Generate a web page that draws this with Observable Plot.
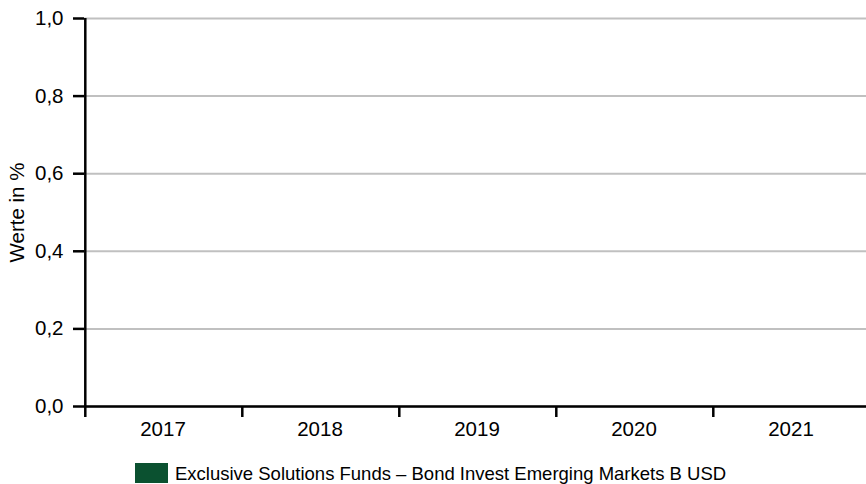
<!DOCTYPE html>
<html><head><meta charset="utf-8">
<script src="https://cdn.jsdelivr.net/npm/d3@7"></script>
<script src="https://cdn.jsdelivr.net/npm/@observablehq/plot@0.6"></script>
<style>
body{margin:0;background:#fff;font-family:"Liberation Sans",Arial,sans-serif;}
#legend{position:relative;height:34px;width:866px;}
#legend .sw{position:absolute;left:135px;top:13px;width:33px;height:20px;}
#legend .lb{position:absolute;left:175px;top:14px;font-size:18.5px;line-height:20px;color:#000;white-space:nowrap;}
</style>
</head><body>
<div id="chart"></div>
<div id="legend"></div>
<script>
const years = ["2017", "2018", "2019", "2020", "2021"];
const values = [null, null, null, null, null]; // no values shown in the reference
const yTicks = [0, 0.2, 0.4, 0.6, 0.8, 1.0];
const yLabel = "Werte in %";
const seriesName = "Exclusive Solutions Funds – Bond Invest Emerging Markets B USD";
const seriesColor = "#0b5130";

const data = years.map((y, i) => ({year: y, value: values[i]}));
const xRange = [84, 871];
const bw = (xRange[1] - xRange[0]) / years.length;
const fmt = d => d.toFixed(1).replace(".", ",");

const chart = Plot.plot({
  width: 866,
  height: 450,
  marginLeft: 84,
  marginRight: 0,
  marginTop: 18,
  marginBottom: 44,
  style: {fontFamily: "Liberation Sans, Arial, sans-serif", fontSize: "16px", color: "#000", background: "#fff"},
  x: {type: "band", domain: years, range: xRange, padding: 0},
  y: {domain: [0, 1], nice: false},
  marks: [
    Plot.gridY(yTicks, {stroke: "#c0c0c0", strokeOpacity: 1, strokeWidth: 2}),
    Plot.barY(data.filter(d => d.value != null), {x: "year", y: "value", fill: seriesColor}),
    Plot.ruleY([0], {stroke: "#000", strokeWidth: 2.5}),
    Plot.ruleX([years[0]], {dx: -bw / 2, insetBottom: -11, stroke: "#000", strokeWidth: 2.5}),
    Plot.ruleX(years.slice(1), {x: d => d, y1: 0, y2: 0, insetBottom: -11, dx: -bw / 2, stroke: "#000", strokeWidth: 2.5}),
    Plot.axisY({ticks: yTicks, tickSize: 11, tickPadding: 10, tickFormat: fmt, fontSize: 20.5, strokeWidth: 2.5, color: "#000", label: null}),
    Plot.axisX({tickSize: 0, tickPadding: 15, fontSize: 20.5, color: "#000", label: null, dx: -1}),
    Plot.text([yLabel], {frameAnchor: "left", textAnchor: "middle", rotate: -90, dx: -67, fontSize: 20.5, fill: "#000"})
  ]
});
document.getElementById("chart").appendChild(chart);

const legend = document.getElementById("legend");
const sw = document.createElement("div");
sw.className = "sw";
sw.style.background = seriesColor;
const lb = document.createElement("div");
lb.className = "lb";
lb.textContent = seriesName;
legend.appendChild(sw);
legend.appendChild(lb);
</script>
</body></html>
